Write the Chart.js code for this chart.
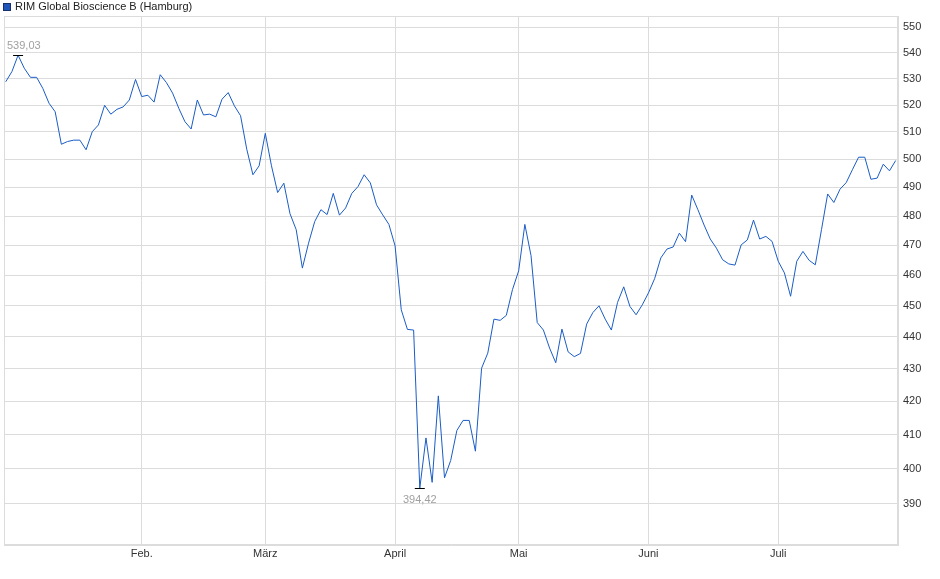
<!DOCTYPE html>
<html>
<head>
<meta charset="utf-8">
<script src="https://cdn.jsdelivr.net/npm/chart.js@4.4.1/dist/chart.umd.min.js"></script>
<style>
  html, body { margin: 0; padding: 0; background: #fff; }
</style>
</head>
<body>
<canvas id="chart" width="940" height="579"></canvas>
<script>
const seriesName = "RIM Global Bioscience B (Hamburg)";

// one close per trading day, 2 Jan .. 28 Jul
const prices = [
  528.8, 532.7, 539.03, 534.0, 530.5, 530.5, 526.3, 520.7, 517.5, 505.5,
  506.5, 507.0, 507.0, 503.5, 510.1, 512.6, 519.9, 516.6, 518.4, 519.3,
  521.9, 529.7, 523.2, 523.7, 521.1, 531.5, 528.5, 524.5, 518.8, 513.8,
  511.1, 521.9, 516.3, 516.6, 515.6, 522.2, 524.7, 519.7, 516.0, 503.7,
  494.5, 497.7, 509.5, 497.7, 488.2, 491.5, 480.8, 475.3, 462.3, 470.7,
  478.1, 482.2, 480.5, 487.9, 480.3, 482.8, 487.9, 490.3, 494.5, 491.6,
  483.9, 480.4, 477.1, 469.8, 448.6, 442.3, 442.1, 394.42, 409.0, 396.1,
  421.6, 397.4, 402.4, 411.2, 414.2, 414.2, 405.1, 430.1, 434.8, 445.6,
  445.2, 446.8, 455.2, 461.4, 477.1, 466.5, 444.5, 442.1, 436.4, 431.8,
  442.4, 435.2, 433.7, 434.7, 444.0, 447.7, 449.9, 445.6, 442.1, 451.0,
  456.1, 449.7, 447.0, 450.2, 454.1, 458.8, 465.7, 468.7, 469.4, 474.1,
  471.2, 487.3, 482.2, 476.9, 472.1, 469.0, 465.1, 463.7, 463.3, 470.1,
  471.8, 478.6, 472.1, 473.0, 471.3, 464.6, 460.7, 453.0, 464.6, 467.9,
  464.9, 463.4, 475.3, 487.7, 484.7, 489.4, 491.7, 496.3, 500.8, 500.8,
  492.9, 493.3, 498.3, 495.9, 499.6
];

// trading-day index where each month starts
const monthTicks = [22, 42, 63, 83, 104, 125];
const monthLabels = ["Feb.", "März", "April", "Mai", "Juni", "Juli"];

const priceTicks = [390, 400, 410, 420, 430, 440, 450, 460, 470, 480, 490, 500, 510, 520, 530, 540, 550];

const FONT = 'Arial, "Liberation Sans", sans-serif';
const GRID = "#dcdcdc";

const fmt = v => v.toFixed(2).replace(".", ",");

const frame = {
  id: "frame",
  beforeDatasetsDraw(chart) {
    const { ctx, chartArea: a } = chart;
    ctx.save();
    ctx.strokeStyle = GRID;
    ctx.lineWidth = 1;
    ctx.strokeRect(Math.round(a.left) + 0.5, Math.round(a.top) + 0.5,
      Math.round(a.right - a.left) - 1, Math.round(a.bottom - a.top) - 1);
    ctx.restore();
  },
};

const legendBox = {
  id: "legendBox",
  afterDraw(chart) {
    const ctx = chart.ctx;
    ctx.save();
    ctx.fillStyle = "#1f56b8";
    ctx.fillRect(3, 3, 8, 8);
    ctx.strokeStyle = "#17306a";
    ctx.strokeRect(3.5, 3.5, 7, 7);
    ctx.fillStyle = "#222";
    ctx.font = "11px " + FONT;
    ctx.textBaseline = "middle";
    ctx.fillText(seriesName, 15, 7);
    ctx.restore();
  },
};

const extremes = {
  id: "extremes",
  afterDatasetsDraw(chart) {
    const { ctx, chartArea, scales } = chart;
    const hi = prices.indexOf(Math.max(...prices));
    const lo = prices.indexOf(Math.min(...prices));
    ctx.save();
    ctx.font = "11px " + FONT;
    ctx.textAlign = "center";
    const mark = (i, above) => {
      const px = scales.x.getPixelForValue(i);
      const py = Math.round(scales.y.getPixelForValue(prices[i])) + 0.5;
      ctx.strokeStyle = "#000";
      ctx.lineWidth = 1;
      ctx.beginPath();
      ctx.moveTo(px - 5, py);
      ctx.lineTo(px + 5, py);
      ctx.stroke();
      const label = fmt(prices[i]);
      const w = ctx.measureText(label).width;
      const tx = Math.max(px, chartArea.left + w / 2 + 3);
      ctx.fillStyle = "#a0a0a0";
      ctx.textBaseline = above ? "bottom" : "top";
      ctx.fillText(label, tx, above ? py - 4 : py + 6);
    };
    mark(hi, true);
    mark(lo, false);
    ctx.restore();
  },
};

Chart.defaults.font.family = FONT;
Chart.defaults.font.size = 11;

new Chart(document.getElementById("chart"), {
  type: "line",
  data: {
    datasets: [{
      label: seriesName,
      data: prices.map((v, i) => ({ x: i, y: v })),
      borderColor: "#1a5cc6",
      borderWidth: 1,
      pointRadius: 0,
      tension: 0,
      fill: false,
    }],
  },
  options: {
    responsive: false,
    animation: false,
    layout: { padding: { top: 16, left: 4, right: 0, bottom: 0 } },
    plugins: { legend: { display: false }, tooltip: { enabled: false } },
    scales: {
      x: {
        type: "linear",
        min: -0.28,
        max: prices.length - 1 + 0.38,
        afterBuildTicks: axis => { axis.ticks = monthTicks.map(v => ({ value: v })); },
        afterFit: axis => { axis.height = 34; },
        ticks: {
          autoSkip: false,
          maxRotation: 0,
          padding: 2,
          color: "#333",
          callback: v => monthLabels[monthTicks.indexOf(v)],
        },
        grid: { color: GRID, drawTicks: false },
        border: { color: GRID },
      },
      y: {
        type: "logarithmic",
        position: "right",
        min: 378.6,
        max: 554.5,
        afterBuildTicks: axis => { axis.ticks = priceTicks.map(v => ({ value: v })); },
        afterFit: axis => { axis.width = 42; },
        ticks: {
          padding: 5,
          color: "#333",
          callback: v => String(v),
        },
        grid: { color: GRID, drawTicks: false },
        border: { color: GRID },
      },
    },
  },
  plugins: [frame, legendBox, extremes],
});
</script>
</body>
</html>
